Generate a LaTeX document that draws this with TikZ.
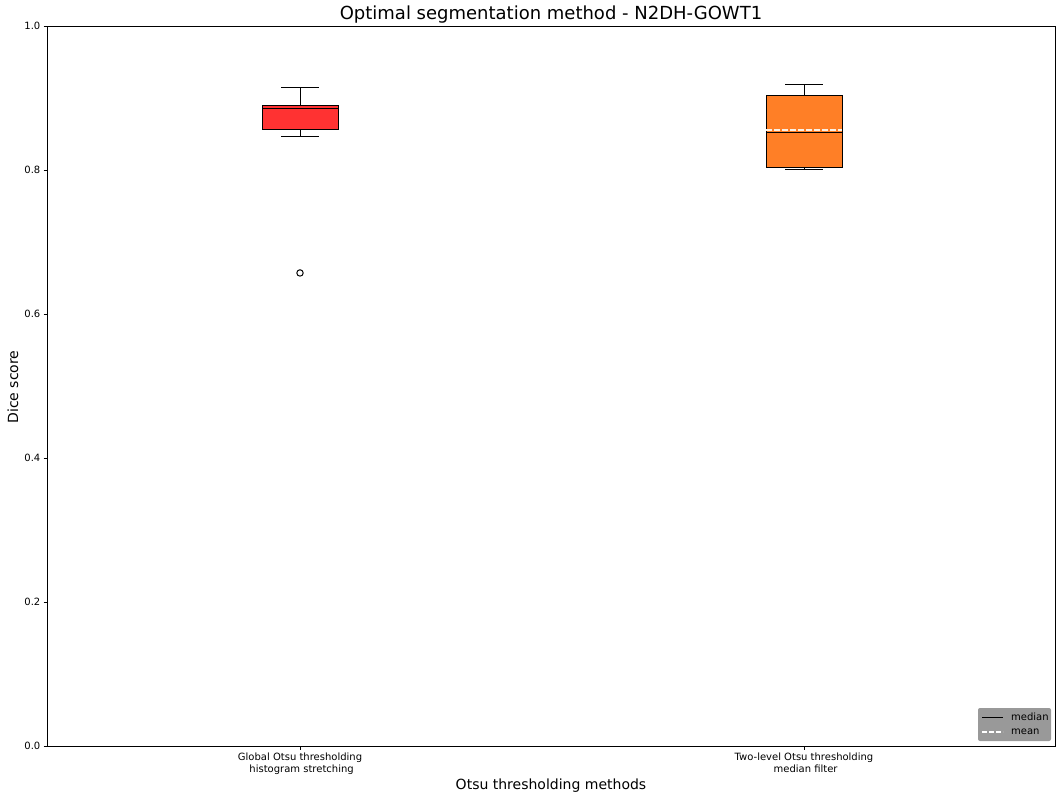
\documentclass[tikz,border=0pt]{standalone}
\usepackage{fontspec}
\setmainfont{DejaVu Sans}
\usetikzlibrary{positioning}
\definecolor{boxred}{RGB}{255,50,50}
\definecolor{boxorange}{RGB}{255,127,38}
\definecolor{leggray}{RGB}{153,153,153}
\definecolor{meancol}{RGB}{250,240,228}

\begin{document}
\begin{tikzpicture}[x=1pt,y=-1pt,
  ticklab/.style={font=\fontsize{10}{12}\selectfont, inner sep=0pt},
  boxbody/.style={draw=black, line width=1pt},
  whisk/.style={black, line width=1pt},
  medline/.style={black, line width=1pt},
  meanline/.style={meancol, line width=2pt, dash pattern=on 5.5pt off 2.5pt}]
\useasboundingbox (0,0) rectangle (1063,800);
\fill[white] (0,0) rectangle (1063,800);

% frame and ticks
\draw[line width=0.8pt] (47,26) rectangle (1055,746);
\foreach \v/\t in {0/0.0, 0.2/0.2, 0.4/0.4, 0.6/0.6, 0.8/0.8, 1/1.0} {
  \pgfmathsetmacro{\py}{746-720*\v}
  \draw[line width=0.8pt] (43.5,\py) -- (47,\py);
  \node[ticklab, anchor=east] (ytick\t) at (40.5,\py) {\t};
}
\draw[line width=0.8pt] (300,746) -- (300,749.5);
\draw[line width=0.8pt] (804,746) -- (804,749.5);
\node[ticklab, anchor=north, align=center, font=\fontsize{10}{12}\selectfont] (xtickA) at (300,752.5)
  {Global Otsu thresholding\\\ histogram stretching};
\node[ticklab, anchor=north, align=center, font=\fontsize{10}{12}\selectfont] (xtickB) at (804,752.5)
  {Two-level Otsu thresholding\\\ median filter};

% data in value units
\begin{scope}[shift={(0,746)}, y=720pt]
  % first box
  \draw[whisk] (300,0.889) -- (300,0.915);
  \draw[whisk] (281,0.915) -- (319,0.915);
  \draw[whisk] (300,0.856) -- (300,0.846);
  \draw[whisk] (281,0.846) -- (319,0.846);
  \filldraw[boxbody, fill=boxred] (262,0.856) rectangle (338,0.889);
  \draw[medline] (262,0.886) -- (338,0.886);
  \draw[black, line width=1pt] (300,0.657) circle (3.2pt);
  % second box
  \draw[whisk] (804,0.904) -- (804,0.919);
  \draw[whisk] (785,0.919) -- (823,0.919);
  \draw[whisk] (804,0.804) -- (804,0.800);
  \draw[whisk] (785,0.800) -- (823,0.800);
  \filldraw[boxbody, fill=boxorange] (766,0.804) rectangle (842,0.904);
  \draw[meanline] (766,0.856) -- (842,0.856);
  \draw[medline] (766,0.852) -- (842,0.852);
\end{scope}

% labels
\node[font=\fontsize{18}{21}\selectfont, inner sep=0pt] (title) at (551,15) {Optimal segmentation method - N2DH-GOWT1};
\node[font=\fontsize{14}{17}\selectfont, inner sep=0pt] (xlabel) at (551,786) {Otsu thresholding methods};
\node[font=\fontsize{14}{17}\selectfont, inner sep=0pt, rotate=90] (ylabel) at (13,387) {Dice score};

% legend
\fill[leggray, rounded corners=2pt] (978,708) rectangle (1051,741);
\coordinate (medA) at (982,717);
\coordinate (medB) at (1003,717);
\coordinate (meanA) at (982,732);
\coordinate (meanB) at (1003,732);
\draw[medline] (medA) -- (medB);
\draw[white, line width=1.5pt, dash pattern=on 5pt off 2pt] (meanA) -- (meanB);
\node[ticklab, anchor=west, right=8pt of medB] (legmed) {median};
\node[ticklab, anchor=west, right=8pt of meanB] (legmean) {mean};
\end{tikzpicture}
\end{document}
